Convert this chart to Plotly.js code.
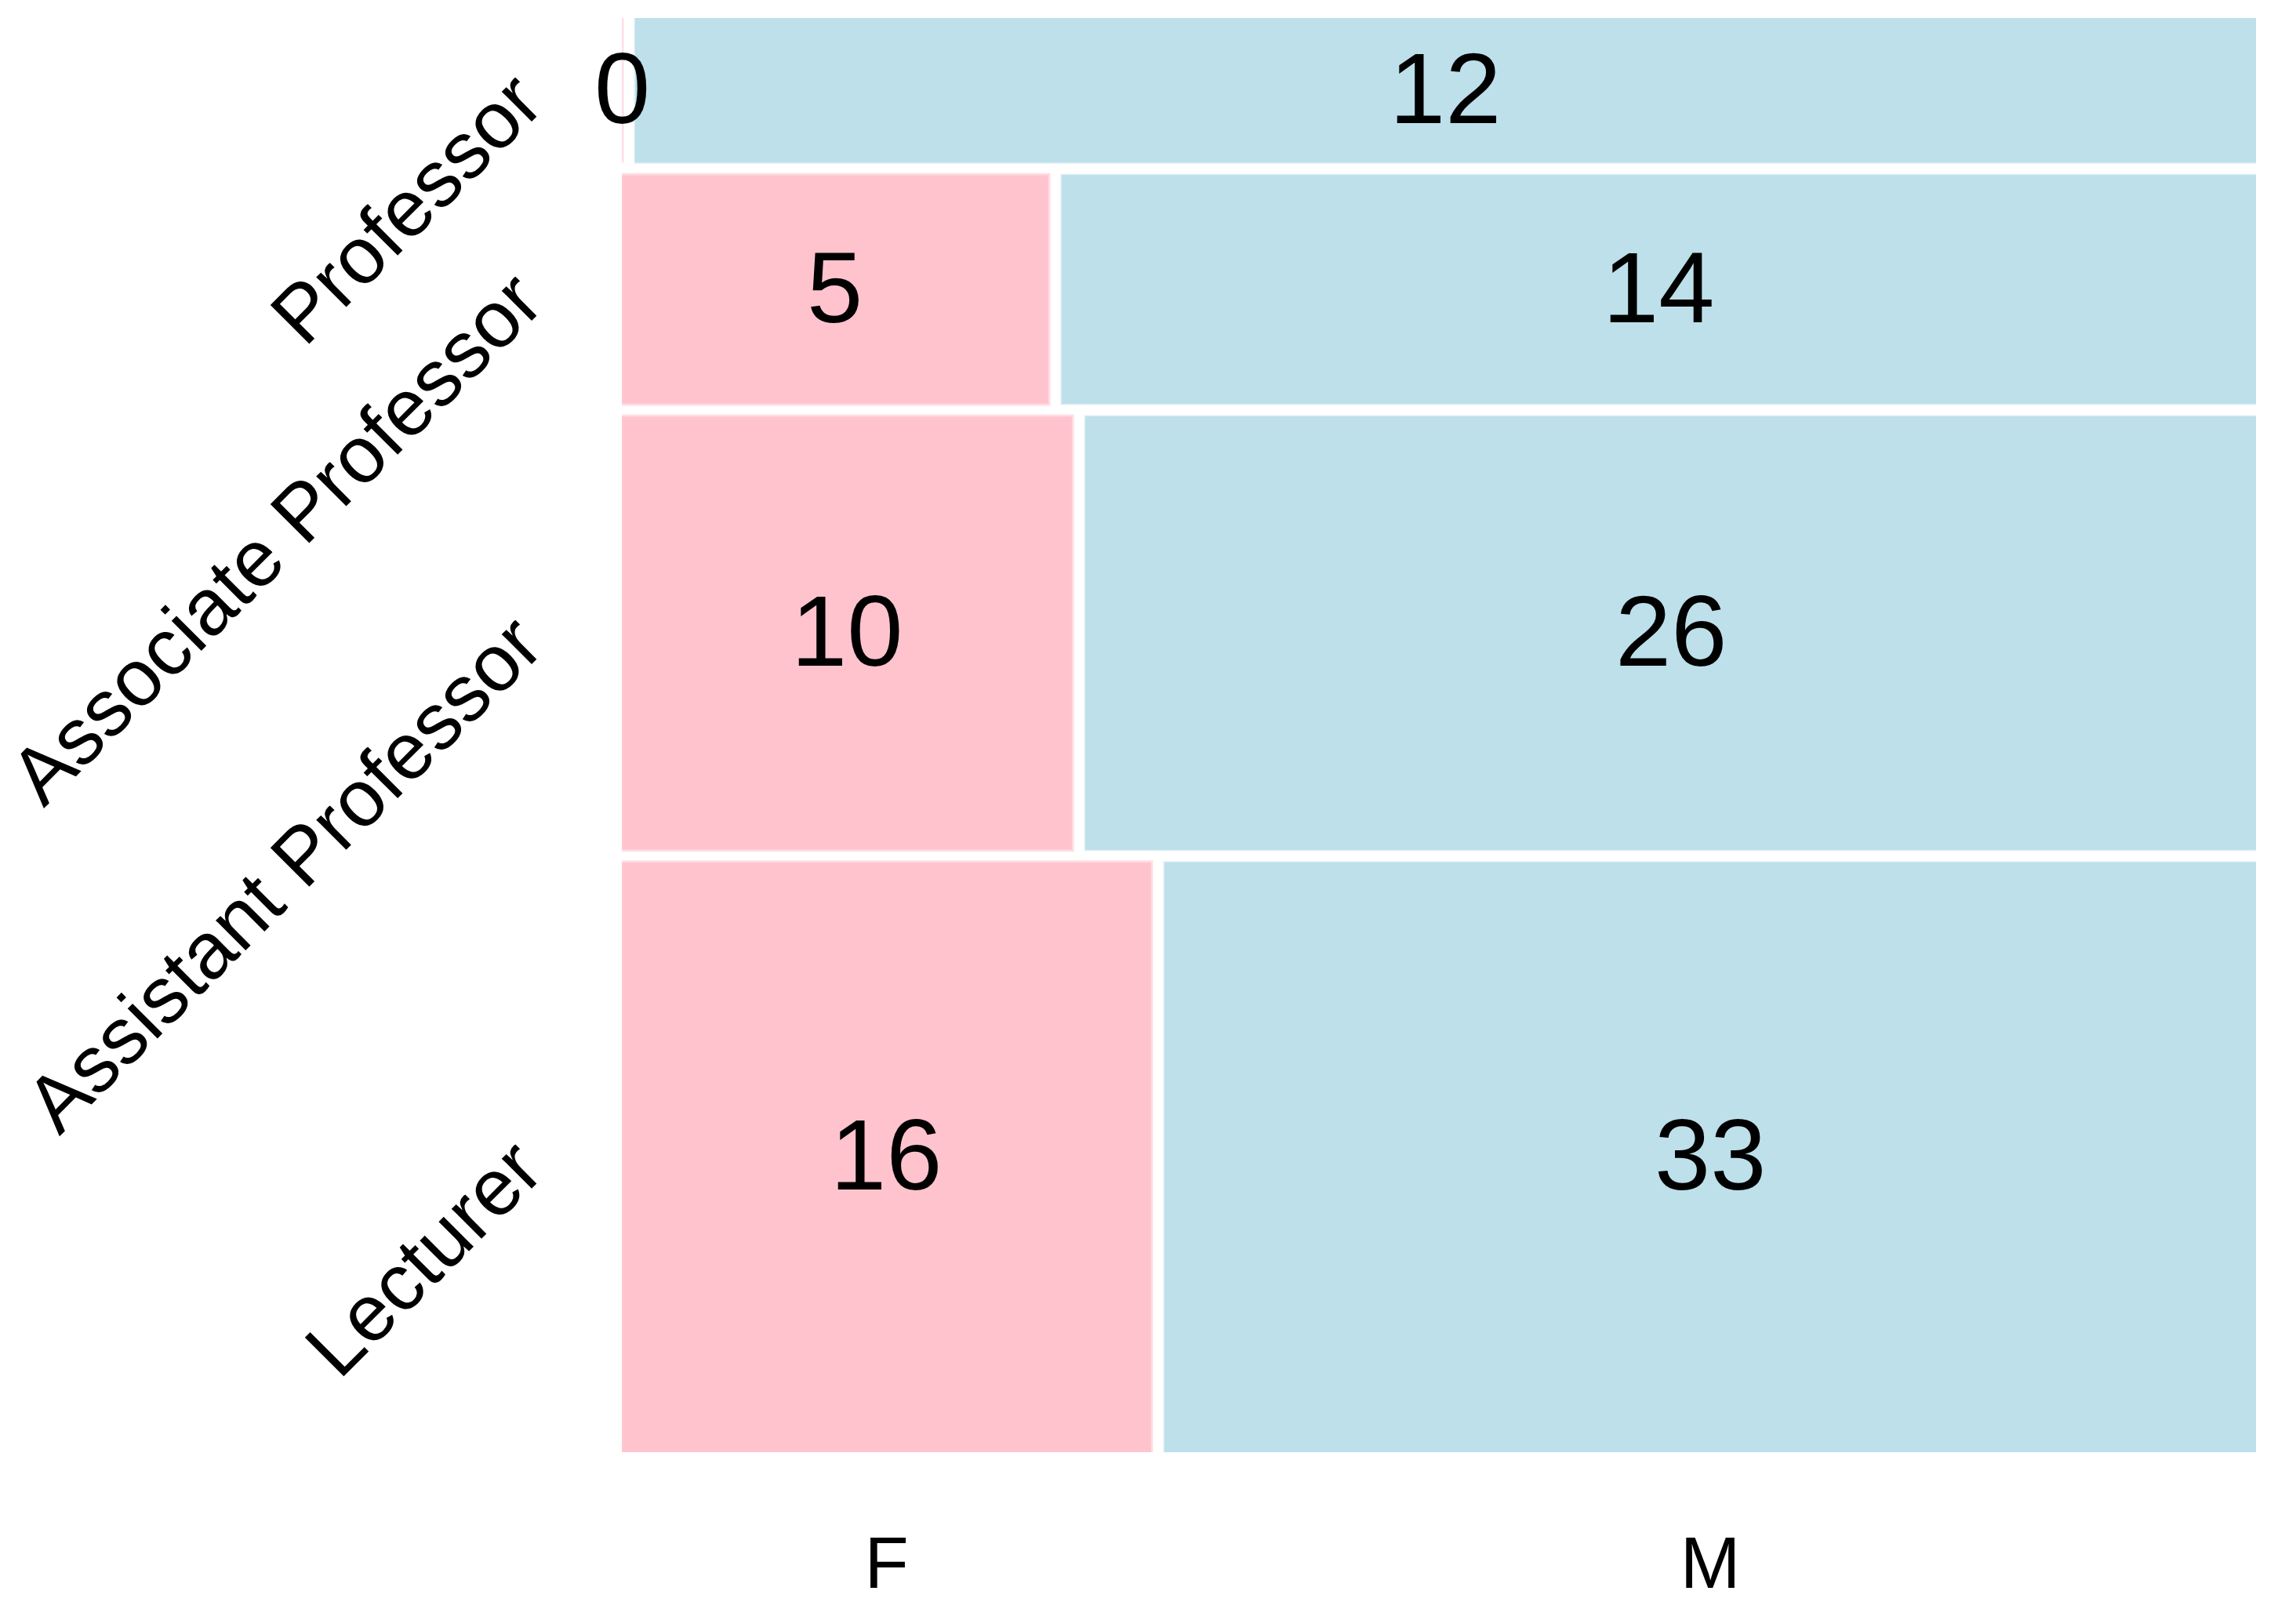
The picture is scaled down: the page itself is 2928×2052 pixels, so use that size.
<!DOCTYPE html>
<html><head><meta charset="utf-8">
<script src="https://cdn.plot.ly/plotly-3.0.1.min.js"></script>
<style>html,body{margin:0;padding:0;background:#fff}</style>
</head><body><div id="chart" style="width:2928px;height:2052px"></div>
<script>
// Data (rows listed top to bottom)
const ranks = ['Professor', 'Associate Professor', 'Assistant Professor', 'Lecturer'];
const genders = ['F', 'M'];
const femaleCounts = [0, 5, 10, 16];
const maleCounts = [12, 14, 26, 33];

// Mosaic geometry derived from the counts
const gapX = 0.0082, gapY = 0.009;
const totals = ranks.map((r, i) => femaleCounts[i] + maleCounts[i]);
const N = totals.reduce((a, b) => a + b, 0);
const rowH = totals.map(t => t / N);
const rowC = new Array(ranks.length);
let cum = 0;
for (let i = ranks.length - 1; i >= 0; i--) {
  rowC[i] = cum + rowH[i] / 2;
  cum += rowH[i] + gapY;
}
const yMax = cum - gapY;
const fW = ranks.map((r, i) => femaleCounts[i] / totals[i]);
const mW = ranks.map((r, i) => maleCounts[i] / totals[i]);
const mBase = fW.map(w => w + gapX);
const xMax = 1 + gapX;

const font = 'Liberation Sans, Arial, Helvetica, sans-serif';
const pinkFill = 'rgba(255,192,203,0.95)';
const blueFill = 'rgba(173,216,230,0.8)';

const traces = [
  {
    type: 'bar', orientation: 'h', name: 'F',
    y: rowC, x: fW, base: ranks.map(() => 0), width: rowH,
    marker: { color: pinkFill, line: { color: 'rgba(255,200,210,0.6)', width: 5 } },
    hoverinfo: 'skip'
  },
  {
    type: 'bar', orientation: 'h', name: 'M',
    y: rowC, x: mW, base: mBase, width: rowH,
    marker: { color: blueFill, line: { color: 'rgba(190,224,235,0.5)', width: 3 } },
    hoverinfo: 'skip'
  }
];

const cellX = fW.map(w => w / 2).concat(mBase.map((b, i) => b + mW[i] / 2));
const cellY = rowC.concat(rowC);
const cellText = femaleCounts.concat(maleCounts).map(String);
const annotations = cellText.map((t, k) => ({
  xref: 'x', yref: 'y', x: cellX[k], y: cellY[k], text: t,
  showarrow: false, xanchor: 'center', yanchor: 'middle', yshift: 3,
  font: { family: font, size: 128, color: '#000' }
}));

const last = ranks.length - 1;
const layout = {
  width: 2928, height: 2052,
  margin: { l: 793, r: 51, t: 23, b: 200, pad: 0 },
  paper_bgcolor: '#fff', plot_bgcolor: '#fff',
  showlegend: false, barmode: 'overlay',
  font: { family: font, color: '#000' },
  annotations: annotations,
  xaxis: {
    range: [0, xMax], showgrid: false, zeroline: false, showline: false,
    tickmode: 'array',
    tickvals: [fW[last] / 2, mBase[last] + mW[last] / 2],
    ticktext: genders,
    ticks: '', ticklabelstandoff: 80,
    tickfont: { family: font, size: 92, color: '#000' },
    automargin: false
  },
  yaxis: {
    range: [0, yMax], showgrid: false, zeroline: false, showline: false,
    tickmode: 'array', tickvals: rowC, ticktext: ranks,
    tickangle: -45, ticks: '', ticklabelstandoff: 131,
    tickfont: { family: font, size: 102, color: '#000' },
    automargin: false
  }
};

Plotly.newPlot('chart', traces, layout, { staticPlot: true, displayModeBar: false });
</script>
</body></html>
